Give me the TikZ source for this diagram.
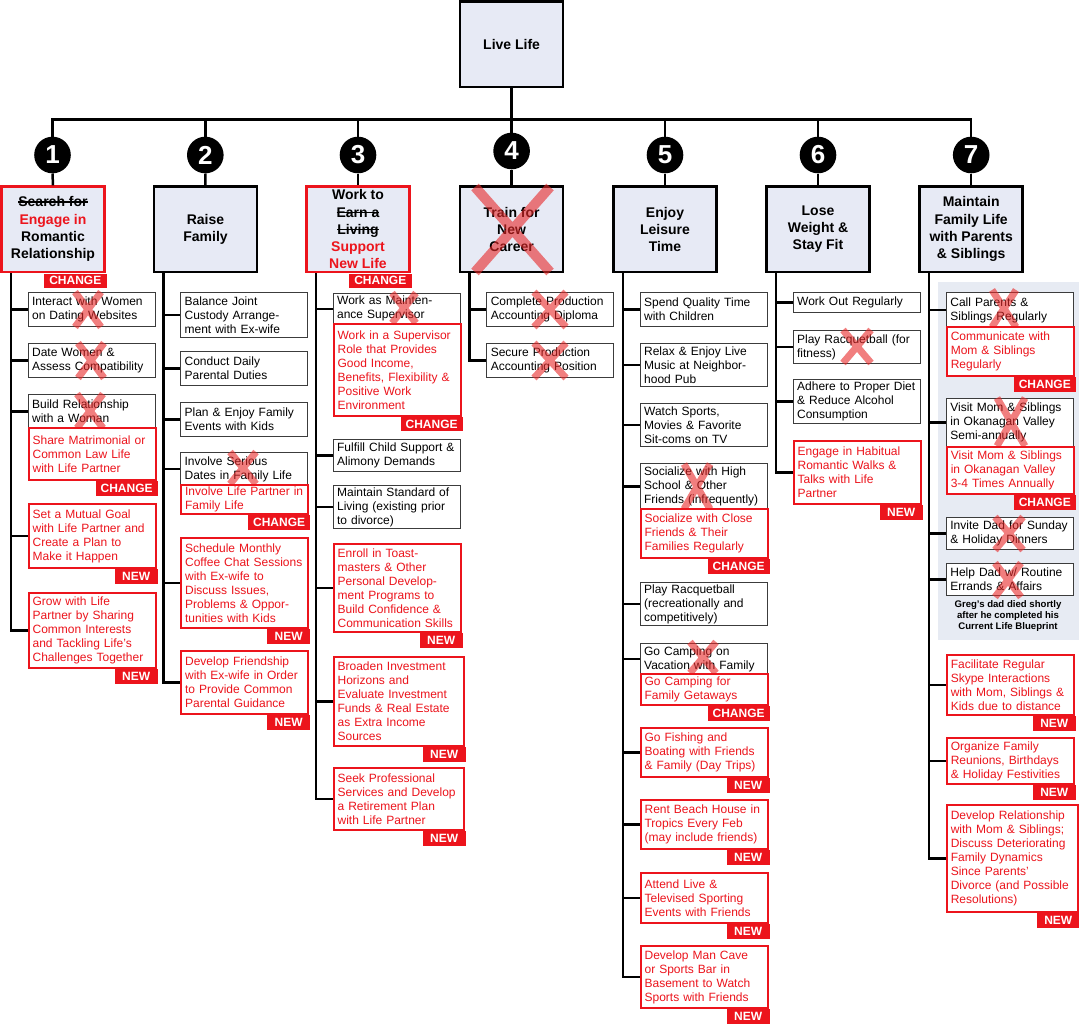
\documentclass[tikz,border=0pt]{standalone}
\usepackage{fontspec}
\setmainfont{Liberation Sans}
\definecolor{boxfill}{RGB}{231,234,245}
\definecolor{panelc}{RGB}{231,235,243}
\definecolor{myred}{RGB}{236,20,28}
\definecolor{boxgray}{RGB}{60,60,60}
\definecolor{xred}{RGB}{232,40,40}
\newcommand\myfs{\fontsize{12}{14}\selectfont}
\newcommand\myft{\fontsize{14}{17.3}\selectfont\bfseries}
\newcommand\myfn{\fontsize{26}{26}\selectfont\bfseries}
\newcommand\myftag{\fontsize{12}{12}\selectfont\bfseries}
\newcommand\myfnote{\fontsize{9.6}{11}\selectfont\bfseries}
\newcommand\stk[1]{\leavevmode\setbox0\hbox{#1}\rlap{\rule[0.3em]{\wd0}{1.3pt}}\box0}
\newcommand\xm[4]{\draw[xmark] (#1-#4,#2) -- (#1+#4,#3) (#1+#4,#2) -- (#1-#4,#3);}
\tikzset{
 conn/.style={line width=2.5pt, draw=black, line join=miter},
 obox/.style={draw=boxgray, line width=1.3pt, fill=white, text width=119pt, inner xsep=4pt, inner ysep=0pt, align=left, font=\myfs, anchor=north west},
 rbox/.style={obox, draw=myred, line width=2.2pt, text=myred},
 l1box/.style={draw=black, line width=2.5pt, fill=boxfill, minimum width=103pt, minimum height=85.5pt, inner sep=0pt, align=center, font=\myft},
 num/.style={circle, fill=black, minimum size=36.6pt, inner sep=0pt, text=white, font=\myfn},
 tagc/.style={fill=myred, text=white, font=\myftag, minimum width=62pt, minimum height=14.5pt, inner sep=0pt, anchor=north east},
 tagn/.style={tagc, minimum width=43pt},
 xmark/.style={draw=xred, line width=7pt, draw opacity=0.6},
}
\begin{document}
\begin{tikzpicture}[x=1pt,y=-1pt]
\useasboundingbox (0,0) rectangle (1079,1026);
% panel behind column 7
\fill[panelc] (938,282) rectangle (1079,640);
% root
\node[l1box] (R) at (511.6,44.2) {Live Life};
\coordinate (bar) at (0,119.3);
% numbers
\node[num] (N1) at (52.5,155) {1};
\node[num] (N2) at (205.3,155) {2};
\node[num] (N3) at (358,155) {3};
\node[num] (N4) at (511.6,151) {4};
\node[num] (N5) at (665,155) {5};
\node[num] (N6) at (818,155) {6};
\node[num] (N7) at (971.2,155) {7};
% level 1
\node[l1box, draw=myred] (A1) at (53,229.3) {\stk{Search for}\\\textcolor{myred}{Engage in}\\Romantic\\Relationship};
\node[l1box] (A2) at (205.5,229.3) {Raise\\Family};
\node[l1box, draw=myred] (A3) at (358,229.3) {Work to\\\stk{Earn a}\\\stk{Living}\\\textcolor{myred}{Support}\\\textcolor{myred}{New Life}};
\node[l1box] (A4) at (511.6,229.3) {Train for\\New\\Career};
\node[l1box] (A5) at (665,229.3) {Enjoy\\Leisure\\Time};
\node[l1box] (A6) at (818,229.3) {Lose\\Weight \&\\Stay Fit};
\node[l1box] (A7) at (971.2,229.3) {Maintain\\Family Life\\with Parents\\\& Siblings};
\node[tagc, minimum width=63pt] (TA1) at ([xshift=1.25pt]A1.south east) {CHANGE};
\node[tagc, minimum width=63pt] (TA3) at ([xshift=1.25pt]A3.south east) {CHANGE};
% top connectors
\draw[conn] (R.south) -- (R.south |- bar);
\draw[conn] (N1.north) -- (N1 |- bar) -- (N7 |- bar) -- (N7.north);
\foreach \i in {2,...,6} \draw[conn] (N\i |- bar) -- (N\i.north);
\foreach \i in {1,...,7} \draw[conn] (N\i.south) -- (A\i.north);
% column 1
\node[obox, minimum height=34pt] (a1) at (27.5,292) {Interact with Women\\on Dating Websites};
\node[obox, minimum height=34pt] (a2) at (27.5,343) {Date Women \&\\Assess Compatibility};
\node[obox, minimum height=34pt] (a3) at (27.5,394) {Build Relationship\\with a Woman};
% column 2
\node[obox, minimum height=45pt] (b1) at (180,292) {Balance Joint\\Custody Arrange-\\ment with Ex-wife};
\node[obox, minimum height=34pt] (b2) at (180,351) {Conduct Daily\\Parental Duties};
\node[obox, minimum height=34pt] (b3) at (180,402) {Plan \& Enjoy Family\\Events with Kids};
\node[obox, minimum height=33pt] (b4) at (180,452) {Involve Serious\\Dates in Family Life};
% column 3
\node[obox, minimum height=31pt] (c1) at (332.5,292.7) {Work as Mainten-\\ance Supervisor};
\node[obox, minimum height=32pt] (c2) at (332.5,439) {Fulfill Child Support \&\\Alimony Demands};
\node[obox, minimum height=43pt] (c3) at (332.5,485) {Maintain Standard of\\Living (existing prior\\to divorce)};
% column 4
\node[obox, minimum height=34pt] (d1) at (486.1,292) {Complete Production\\Accounting Diploma};
\node[obox, minimum height=34pt] (d2) at (486.1,343) {Secure Production\\Accounting Position};
% column 5
\node[obox, minimum height=34pt] (e1) at (639.5,292) {Spend Quality Time\\with Children};
\node[obox, minimum height=43pt] (e2) at (639.5,343) {Relax \& Enjoy Live\\Music at Neighbor-\\hood Pub};
\node[obox, minimum height=43pt] (e3) at (639.5,403) {Watch Sports,\\Movies \& Favorite\\Sit-coms on TV};
\node[obox, minimum height=46pt] (e4) at (639.5,463) {Socialize with High\\School \& Other\\Friends (infrequently)};
\node[obox, minimum height=43pt] (e5) at (639.5,582) {Play Racquetball\\(recreationally and\\competitively)};
\node[obox, minimum height=31pt] (e6) at (639.5,643) {Go Camping on\\Vacation with Family};
% column 6
\node[obox, minimum height=20pt] (f1) at (792.5,292) {Work Out Regularly};
\node[obox, minimum height=33pt] (f2) at (792.5,330) {Play Racquetball (for\\fitness)};
\node[obox, minimum height=44pt] (f3) at (792.5,379) {Adhere to Proper Diet\\\& Reduce Alcohol\\Consumption};
% column 7
\node[obox, minimum height=35pt] (g1) at (945.7,292) {Call Parents \&\\Siblings Regularly};
\node[obox, minimum height=48pt] (g2) at (945.7,398) {Visit Mom \& Siblings\\in Okanagan Valley\\Semi-annually};
\node[obox, minimum height=32pt] (g3) at (945.7,517) {Invite Dad for Sunday\\\& Holiday Dinners};
\node[obox, minimum height=32pt] (g4) at (945.7,563) {Help Dad w/ Routine\\Errands \& Affairs};
\node[font=\myfnote, align=center] (note) at (1008,616) {Greg's dad died shortly\\after he completed his\\Current Life Blueprint};
% X marks on black boxes
\xm{88}{292}{327}{13}
\xm{91}{343}{378}{13}
\xm{90}{394}{428}{13}
\xm{243}{452}{484}{13}
\xm{404}{293}{323}{12}
\xm{550}{292}{327}{16}
\xm{550}{343}{378}{16}
\xm{697}{464}{509}{13}
\xm{703}{642}{673}{13}
\xm{857}{330}{363}{14}
\xm{1004}{290}{327}{12}
\xm{1011}{398}{446}{14}
\xm{1009}{517}{550}{14}
\xm{1008}{563}{597}{13}
% red boxes
\node[rbox, minimum height=52pt] (a3r) at (27.5,427) {Share Matrimonial or\\Common Law Life\\with Life Partner};
\node[rbox, minimum height=64pt] (a4) at (27.5,503) {Set a Mutual Goal\\with Life Partner and\\Create a Plan to\\Make it Happen};
\node[rbox, minimum height=75pt] (a5) at (27.5,592) {Grow with Life\\Partner by Sharing\\Common Interests\\and Tackling Life's\\Challenges Together};
\node[rbox, minimum height=29pt] (b4r) at (180,484) {Involve Life Partner in\\Family Life};
\node[rbox, minimum height=90pt] (b5) at (180,537) {Schedule Monthly\\Coffee Chat Sessions\\with Ex-wife to\\Discuss Issues,\\Problems \& Oppor-\\tunities with Kids};
\node[rbox, minimum height=63pt] (b6) at (180,650) {Develop Friendship\\with Ex-wife in Order\\to Provide Common\\Parental Guidance};
\node[rbox, minimum height=91.6pt] (c1r) at (332.5,322.9) {Work in a Supervisor\\Role that Provides\\Good Income,\\Benefits, Flexibility \&\\Positive Work\\Environment};
\node[rbox, minimum height=88.5pt] (c4) at (332.5,542.5) {Enroll in Toast-\\masters \& Other\\Personal Develop-\\ment Programs to\\Build Confidence \&\\Communication Skills};
\node[rbox, minimum height=89pt, text width=122pt] (c5) at (332.5,656) {Broaden Investment\\Horizons and\\Evaluate Investment\\Funds \& Real Estate\\as Extra Income\\Sources};
\node[rbox, minimum height=62pt, text width=122pt] (c6) at (332.5,767) {Seek Professional\\Services and Develop\\a Retirement Plan\\with Life Partner};
\node[rbox, minimum height=49pt] (e4r) at (639.5,508) {Socialize with Close\\Friends \& Their\\Families Regularly};
\node[rbox, minimum height=31pt] (e6r) at (639.5,673) {Go Camping for\\Family Getaways};
\node[rbox, minimum height=49pt] (e7) at (639.5,727) {Go Fishing and\\Boating with Friends\\\& Family (Day Trips)};
\node[rbox, minimum height=49pt] (e8) at (639.5,799) {Rent Beach House in\\Tropics Every Feb\\(may include friends)};
\node[rbox, minimum height=50pt] (e9) at (639.5,872) {Attend Live \&\\Televised Sporting\\Events with Friends};
\node[rbox, minimum height=62pt] (e10) at (639.5,945) {Develop Man Cave\\or Sports Bar in\\Basement to Watch\\Sports with Friends};
\node[rbox, minimum height=63pt] (f4) at (792.5,440) {Engage in Habitual\\Romantic Walks \&\\Talks with Life\\Partner};
\node[rbox, minimum height=49pt] (g1r) at (945.7,326) {Communicate with\\Mom \& Siblings\\Regularly};
\node[rbox, minimum height=47pt] (g2r) at (945.7,446) {Visit Mom \& Siblings\\in Okanagan Valley\\3-4 Times Annually};
\node[rbox, minimum height=60pt] (g5) at (945.7,654) {Facilitate Regular\\Skype Interactions\\with Mom, Siblings \&\\Kids due to distance};
\node[rbox, minimum height=46pt] (g6) at (945.7,737) {Organize Family\\Reunions, Birthdays\\\& Holiday Festivities};
\node[rbox, minimum height=107pt, text width=123pt] (g7) at (945.7,804) {Develop Relationship\\with Mom \& Siblings;\\Discuss Deteriorating\\Family Dynamics\\Since Parents'\\Divorce (and Possible\\Resolutions)};
% tags
\foreach \n in {a3r,b4r,c1r,e4r,e6r,g1r,g2r} \node[tagc] at ([xshift=1.1pt]\n.south east) {CHANGE};
\foreach \n in {a4,a5,b5,b6,c4,c5,c6,e7,e8,e9,e10,f4,g5,g6,g7} \node[tagn] at ([xshift=1.1pt]\n.south east) {NEW};
% level-1 X
\draw[xmark, line width=10pt] (475,187) -- (550,272) (550,187) -- (475,272);
% child connectors
\foreach \i in {1,...,7} \coordinate (v\i) at ([xshift=10.5pt]A\i.south west);
\foreach \n in {a1,a2,a3,a4,a5} \draw[conn] (v1) |- (\n.west);
\foreach \n in {b1,b2,b3,b4,b5,b6} \draw[conn] (v2) |- (\n.west);
\foreach \n in {c1,c2,c3,c4,c5,c6} \draw[conn] (v3) |- (\n.west);
\foreach \n in {d1,d2} \draw[conn] (v4) |- (\n.west);
\foreach \n in {e1,e2,e3,e4,e5,e6,e7,e8,e9,e10} \draw[conn] (v5) |- (\n.west);
\foreach \n in {f1,f2,f3,f4} \draw[conn] (v6) |- (\n.west);
\foreach \n in {g1,g2,g3,g4,g5,g6,g7} \draw[conn] (v7) |- (\n.west);
\end{tikzpicture}
\end{document}
